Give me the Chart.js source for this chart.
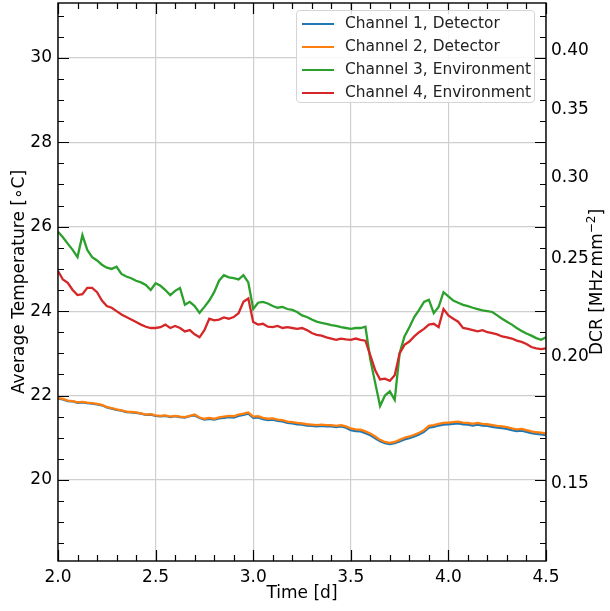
<!DOCTYPE html>
<html lang="en">
<head>
    <meta charset="UTF-8">
    <title>Average Temperature vs Time</title>
    <script src="https://cdn.jsdelivr.net/npm/chart.js"></script>
    <style>
        body { margin: 0; background: #fff; }
        #wrap { position: relative; width: 610px; height: 611px; }
        #legenda {
            position: absolute; left: 296px; top: 10px; width: 239px; height: 93px;
            border: 1px solid #d5d5d5; border-radius: 4px; background: rgba(255,255,255,0.85);
            font-family: "DejaVu Sans", sans-serif; font-size: 15.4px; color: #222;
            box-sizing: border-box; padding-top: 1px;
        }
        .item { height: 23px; line-height: 23px; white-space: nowrap; }
        .item span.linha { display: inline-block; width: 32px; height: 2px; margin: 0 11px 0 5px; vertical-align: middle; }
    </style>
</head>
<body>
<div id="wrap">
    <canvas id="grafico" width="610" height="611"></canvas>
    <div id="legenda"></div>
</div>

<script>
// tempo [d]
const tempos = [
    2.000, 2.025, 2.050, 2.075, 2.100, 2.125, 2.150, 2.175, 2.200, 2.225,
    2.250, 2.275, 2.300, 2.325, 2.350, 2.375, 2.400, 2.425, 2.450, 2.475,
    2.500, 2.525, 2.550, 2.575, 2.600, 2.625, 2.650, 2.675, 2.700, 2.725,
    2.750, 2.775, 2.800, 2.825, 2.850, 2.875, 2.900, 2.925, 2.950, 2.975,
    3.000, 3.025, 3.050, 3.075, 3.100, 3.125, 3.150, 3.175, 3.200, 3.225,
    3.250, 3.275, 3.300, 3.325, 3.350, 3.375, 3.400, 3.425, 3.450, 3.475,
    3.500, 3.525, 3.550, 3.575, 3.600, 3.625, 3.650, 3.675, 3.700, 3.725,
    3.750, 3.775, 3.800, 3.825, 3.850, 3.875, 3.900, 3.925, 3.950, 3.975,
    4.000, 4.025, 4.050, 4.075, 4.100, 4.125, 4.150, 4.175, 4.200, 4.225,
    4.250, 4.275, 4.300, 4.325, 4.350, 4.375, 4.400, 4.425, 4.450, 4.475,
    4.500
];

// Channel 1, Detector
const canal1 = [
    21.93, 21.91, 21.87, 21.86, 21.83, 21.84, 21.82, 21.81, 21.79, 21.77,
    21.72, 21.69, 21.66, 21.64, 21.61, 21.60, 21.59, 21.57, 21.54, 21.55,
    21.52, 21.51, 21.52, 21.49, 21.51, 21.49, 21.48, 21.51, 21.53, 21.47,
    21.43, 21.45, 21.43, 21.46, 21.47, 21.49, 21.48, 21.52, 21.54, 21.57,
    21.47, 21.48, 21.44, 21.42, 21.43, 21.40, 21.39, 21.35, 21.34, 21.32,
    21.31, 21.29, 21.28, 21.27, 21.28, 21.27, 21.27, 21.25, 21.27, 21.24,
    21.18, 21.16, 21.15, 21.11, 21.06, 20.99, 20.92, 20.87, 20.85, 20.87,
    20.91, 20.96, 20.99, 21.03, 21.08, 21.14, 21.24, 21.26, 21.29, 21.31,
    21.32, 21.33, 21.34, 21.32, 21.31, 21.29, 21.31, 21.29, 21.28, 21.26,
    21.24, 21.23, 21.21, 21.18, 21.16, 21.17, 21.14, 21.11, 21.09, 21.08,
    21.06
];

// Channel 2, Detector
const canal2 = [
    21.94, 21.92, 21.88, 21.87, 21.84, 21.85, 21.83, 21.82, 21.80, 21.78,
    21.73, 21.70, 21.67, 21.65, 21.62, 21.61, 21.60, 21.58, 21.55, 21.56,
    21.53, 21.52, 21.53, 21.50, 21.52, 21.50, 21.49, 21.52, 21.55, 21.48,
    21.45, 21.47, 21.45, 21.48, 21.50, 21.52, 21.51, 21.55, 21.57, 21.60,
    21.50, 21.51, 21.47, 21.45, 21.46, 21.43, 21.42, 21.38, 21.37, 21.35,
    21.34, 21.32, 21.31, 21.30, 21.31, 21.30, 21.30, 21.28, 21.30, 21.27,
    21.22, 21.20, 21.19, 21.15, 21.10, 21.03, 20.95, 20.90, 20.88, 20.90,
    20.95, 21.00, 21.03, 21.07, 21.12, 21.18, 21.28, 21.30, 21.33, 21.35,
    21.36, 21.37, 21.38, 21.36, 21.35, 21.33, 21.35, 21.33, 21.32, 21.30,
    21.28, 21.27, 21.25, 21.22, 21.20, 21.21, 21.18, 21.15, 21.13, 21.12,
    21.10
];

// Channel 3, Environment
const canal3 = [
    25.88, 25.75, 25.60, 25.45, 25.28, 25.80, 25.45, 25.28, 25.20, 25.10,
    25.03, 25.00, 25.05, 24.88, 24.82, 24.78, 24.72, 24.68, 24.62, 24.50,
    24.66, 24.60, 24.50, 24.38, 24.48, 24.55, 24.15, 24.22, 24.12, 23.96,
    24.10, 24.25, 24.45, 24.72, 24.85, 24.80, 24.78, 24.75, 24.85, 24.68,
    24.05, 24.20, 24.22, 24.18, 24.12, 24.08, 24.10, 24.05, 24.03, 23.98,
    23.90, 23.86, 23.80, 23.75, 23.72, 23.70, 23.67, 23.65, 23.62, 23.60,
    23.58, 23.60, 23.60, 23.63, 22.85, 22.30, 21.75, 22.00, 22.10, 21.90,
    23.00, 23.40, 23.62, 23.86, 24.03, 24.22, 24.27, 23.95, 24.10, 24.45,
    24.35, 24.25, 24.20, 24.15, 24.12, 24.08, 24.05, 24.02, 24.00, 23.98,
    23.90, 23.82, 23.75, 23.68, 23.60, 23.53, 23.47, 23.42, 23.36, 23.32,
    23.38
];

// Channel 4, Environment
const canal4 = [
    24.95, 24.75, 24.67, 24.50, 24.38, 24.40, 24.55, 24.55, 24.45, 24.25,
    24.12, 24.08, 24.00, 23.92, 23.86, 23.80, 23.74, 23.68, 23.63, 23.60,
    23.60, 23.62, 23.68, 23.60, 23.65, 23.60, 23.52, 23.55, 23.45, 23.38,
    23.55, 23.82, 23.78, 23.80, 23.85, 23.82, 23.86, 23.95, 24.22, 24.30,
    23.74, 23.68, 23.70, 23.63, 23.62, 23.65, 23.60, 23.62, 23.60, 23.58,
    23.60, 23.55, 23.48, 23.44, 23.42, 23.38, 23.35, 23.32, 23.35, 23.33,
    23.32, 23.35, 23.32, 23.30, 22.95, 22.60, 22.38, 22.40, 22.35, 22.48,
    23.00, 23.20, 23.28, 23.40, 23.50, 23.58, 23.68, 23.70, 23.62, 24.05,
    23.90, 23.82, 23.75, 23.60, 23.58, 23.55, 23.52, 23.55, 23.50, 23.48,
    23.45, 23.40, 23.38, 23.35, 23.30, 23.27, 23.22, 23.15, 23.12, 23.10,
    23.12
];

const nomes = ["Channel 1, Detector", "Channel 2, Detector", "Channel 3, Environment", "Channel 4, Environment"];
const cores = ["#1f77b4", "#ff7f0e", "#2ca02c", "#d62728"];

const ticksTempo = [2.0, 2.5, 3.0, 3.5, 4.0, 4.5];
const ticksTemp = [20, 22, 24, 26, 28, 30];
const ticksDCR = [0.15, 0.20, 0.25, 0.30, 0.35, 0.40];

const fonte = "DejaVu Sans";
Chart.defaults.font.family = fonte;
Chart.defaults.color = "#000";

// ticks para dentro + moldura + titulo do eixo da direita
const moldura = {
    id: "moldura",
    afterDraw(chart) {
        const ctx = chart.ctx;
        const a = chart.chartArea;
        const x = chart.scales.x;
        const y = chart.scales.y;
        ctx.save();
        ctx.strokeStyle = "#000";
        ctx.lineWidth = 1.2;
        ctx.beginPath();
        for (let i = 0; i <= 25; i++) {
            const v = 2 + i * 0.1;
            const px = Math.round(x.getPixelForValue(v)) + 0.5;
            const len = (i % 5 == 0) ? 11 : 6;
            ctx.moveTo(px, a.bottom); ctx.lineTo(px, a.bottom - len);
            ctx.moveTo(px, a.top); ctx.lineTo(px, a.top + len);
        }
        for (let i = 37; i <= 62; i++) {
            const v = i * 0.5;
            const py = Math.round(y.getPixelForValue(v)) + 0.5;
            if (py < a.top || py > a.bottom) continue;
            const len = (i % 4 == 0) ? 11 : 6;
            ctx.moveTo(a.left, py); ctx.lineTo(a.left + len, py);
            ctx.moveTo(a.right, py); ctx.lineTo(a.right - len, py);
        }
        ctx.stroke();
        ctx.lineWidth = 1.4;
        ctx.strokeRect(a.left, a.top, a.right - a.left, a.bottom - a.top);

        // DCR [MHz mm^-2]
        ctx.translate(598, (a.top + a.bottom) / 2);
        ctx.rotate(-Math.PI / 2);
        ctx.fillStyle = "#000";
        ctx.textBaseline = "middle";
        ctx.font = "17px '" + fonte + "'";
        const t1 = "DCR [MHz\u2009mm";
        const w1 = ctx.measureText(t1).width;
        ctx.font = "12px '" + fonte + "'";
        const w2 = ctx.measureText("\u22122").width;
        ctx.font = "17px '" + fonte + "'";
        const w3 = ctx.measureText("]").width;
        let x0 = -(w1 + w2 + w3) / 2;
        ctx.fillText(t1, x0, 0);
        ctx.font = "12px '" + fonte + "'";
        ctx.fillText("\u22122", x0 + w1, -6);
        ctx.font = "17px '" + fonte + "'";
        ctx.fillText("]", x0 + w1 + w2, 0);
        ctx.restore();
    }
};

const datasets = [canal1, canal2, canal3, canal4].map((serie, i) => ({
    label: nomes[i],
    data: tempos.map((t, j) => ({ x: t, y: serie[j] })),
    borderColor: cores[i],
    backgroundColor: cores[i],
    borderWidth: 2.3,
    pointRadius: 0,
    tension: 0,
    order: 4 - i,
    yAxisID: "y"
}));

function semPadding(s) {
    s.paddingTop = 0;
    s.paddingBottom = 0;
    s.paddingLeft = 0;
    s.paddingRight = 0;
}

new Chart(document.getElementById("grafico"), {
    type: "line",
    data: { datasets: datasets },
    options: {
        responsive: false,
        animation: false,
        layout: { padding: { top: 3, right: 0, left: 0, bottom: 0 } },
        plugins: { legend: { display: false }, tooltip: { enabled: false } },
        scales: {
            x: {
                type: "linear",
                min: 2.0,
                max: 4.5,
                afterBuildTicks: (s) => { s.ticks = ticksTempo.map(v => ({ value: v })); },
                afterFit: (s) => { s.height = 50; semPadding(s); },
                ticks: { font: { size: 17 }, padding: 6, callback: (v) => Number(v).toFixed(1) },
                grid: { color: "#cfcfcf", lineWidth: 1.2, drawTicks: false },
                border: { display: false },
                title: { display: true, text: "Time [d]", font: { size: 17 }, padding: { top: 0, bottom: 7 } }
            },
            y: {
                type: "linear",
                position: "left",
                min: 18.08,
                max: 31.3,
                afterBuildTicks: (s) => { s.ticks = ticksTemp.map(v => ({ value: v })); },
                afterFit: (s) => { s.width = 58; semPadding(s); },
                ticks: { font: { size: 17 }, padding: 6 },
                grid: { color: "#cfcfcf", lineWidth: 1.2, drawTicks: false },
                border: { display: false },
                title: { display: true, text: "Average Temperature [\u2218C]", font: { size: 17 }, padding: { top: 9, bottom: 0 } }
            },
            y2: {
                type: "logarithmic",
                position: "right",
                min: 0.126,
                max: 0.446,
                afterBuildTicks: (s) => { s.ticks = ticksDCR.map(v => ({ value: v })); },
                afterFit: (s) => { s.width = 64; semPadding(s); },
                ticks: { font: { size: 17 }, padding: 5, callback: (v) => Number(v).toFixed(2) },
                grid: { display: false, drawTicks: false },
                border: { display: false }
            }
        }
    },
    plugins: [moldura]
});

// legenda
var htmlLegenda = "";
for (var i = 0; i < nomes.length; i++) {
    htmlLegenda += '<div class="item"><span class="linha" style="background:' + cores[i] + '"></span>' + nomes[i] + '</div>';
}
document.getElementById("legenda").innerHTML = htmlLegenda;
</script>
</body>
</html>
